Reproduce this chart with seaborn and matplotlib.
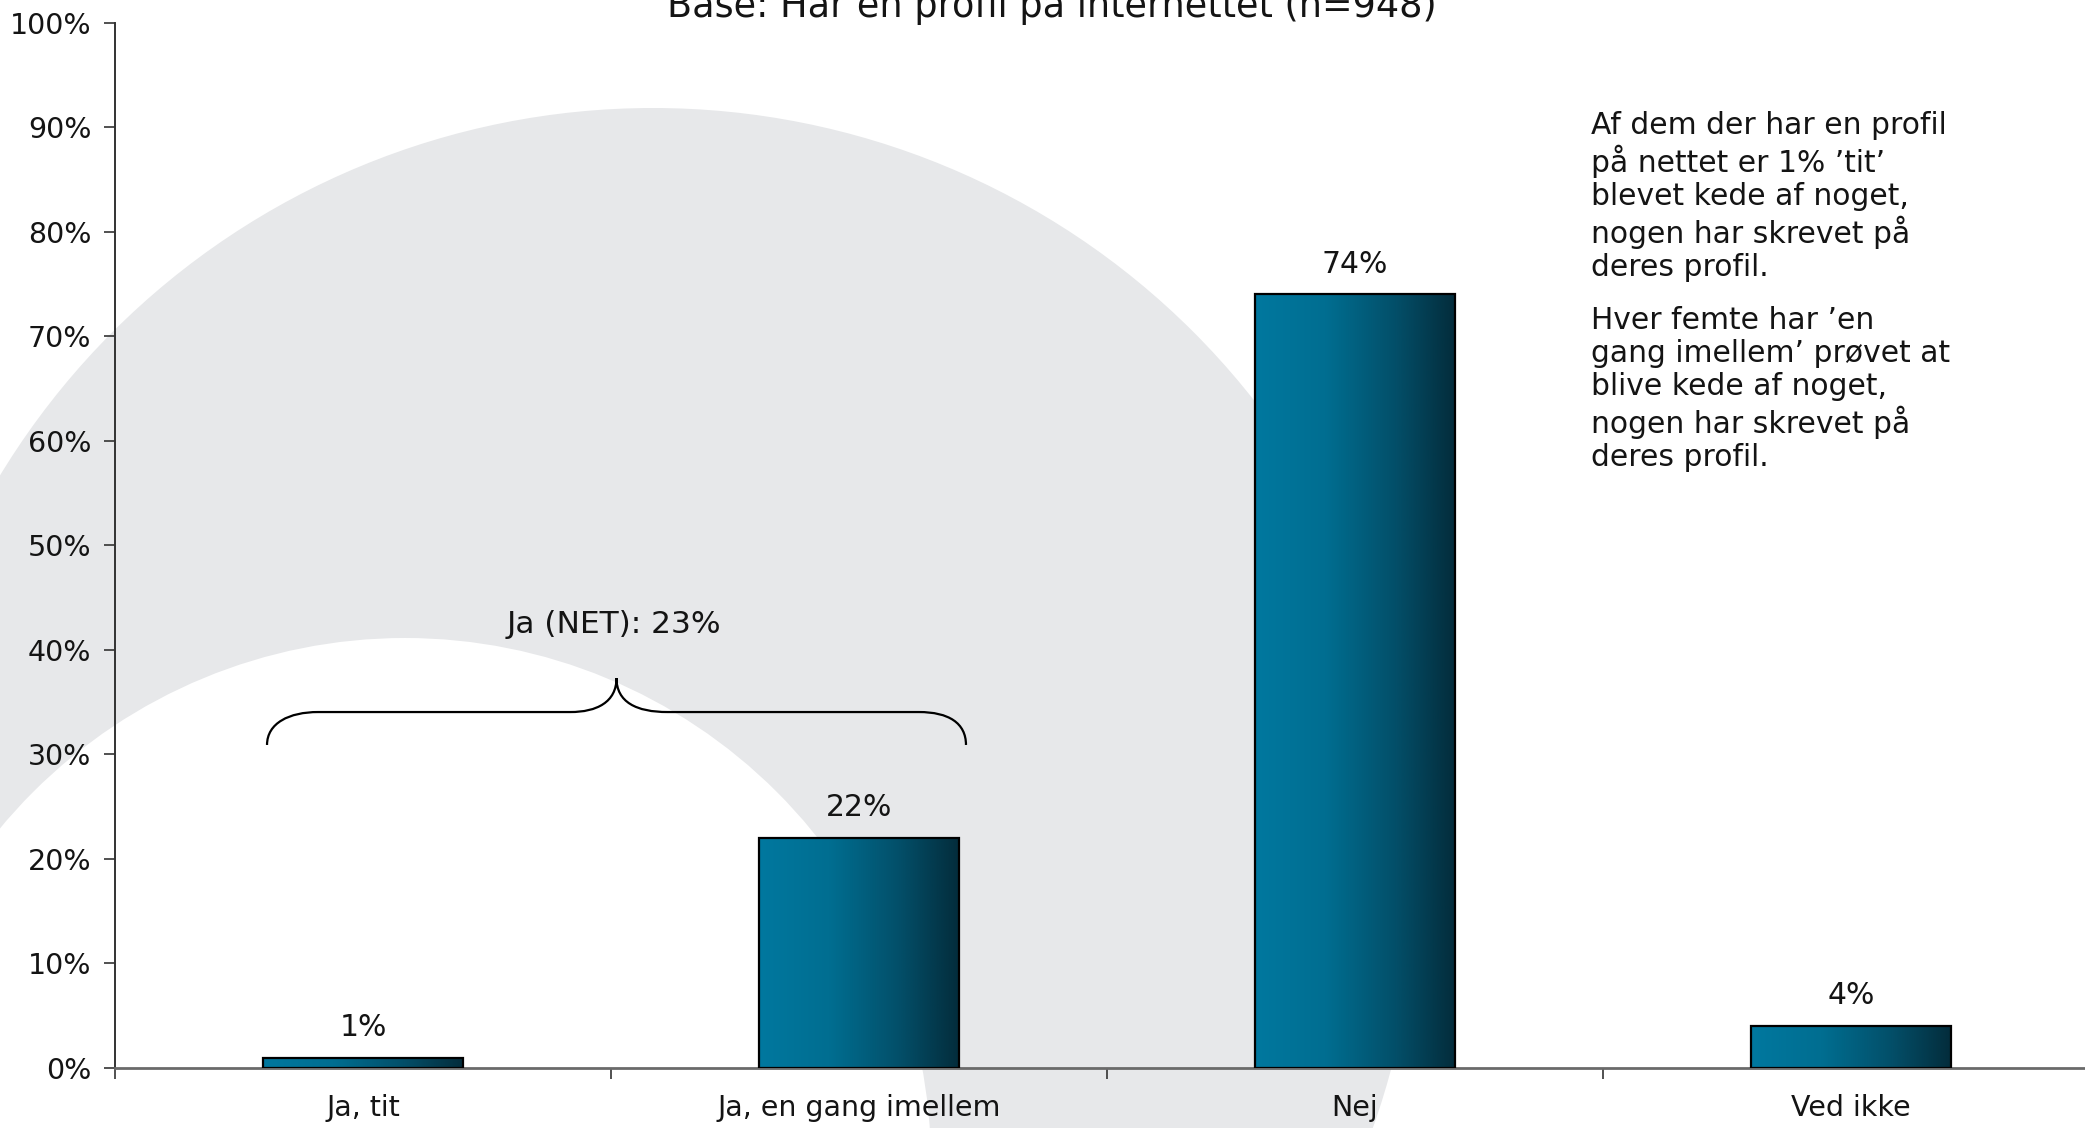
import numpy as np
import pandas as pd
import matplotlib
matplotlib.use("Agg")
import matplotlib.pyplot as plt
import seaborn as sns
from matplotlib.patches import Circle, PathPatch
from matplotlib.path import Path
from matplotlib.colors import LinearSegmentedColormap
from matplotlib.ticker import FixedLocator

# ---------------- data ----------------
categories = ["Ja, tit", "Ja, en gang imellem", "Nej", "Ved ikke"]
values = [1, 22, 74, 4]
net_label = "Ja (NET): 23%"
y_ticks = [0, 10, 20, 30, 40, 50, 60, 70, 80, 90, 100]
y_tick_labels = [f"{t}%" for t in y_ticks]
title = "Base: Har en profil på internettet (n=948)"
note_1 = "Af dem der har en profil\npå nettet er 1% ’tit’\nblevet kede af noget,\nnogen har skrevet på\nderes profil."
note_2 = "Hver femte har ’en\ngang imellem’ prøvet at\nblive kede af noget,\nnogen har skrevet på\nderes profil."

sns.set_theme(style="white")
plt.rcParams['font.family'] = ['DejaVu Sans']
TXT = "#141414"

W, H = 2085, 1128
fig = plt.figure(figsize=(W / 100, H / 100), dpi=100)
fig.patch.set_facecolor("white")

# ---------------- decorative background ring ----------------
bg = fig.add_axes([0, 0, 1, 1], zorder=-5)
bg.set_xlim(0, W)
bg.set_ylim(H, 0)
bg.axis("off")
bg.add_patch(Circle((653, 872), 764, facecolor="#e7e8ea", edgecolor="none"))
bg.add_patch(Circle((405, 1164), 526, facecolor="white", edgecolor="none"))

# ---------------- main axes ----------------
left_px, zero_px, top_px = 115, 1068, 22.6
cat_px = 496
ax = fig.add_axes([left_px / W, (H - zero_px) / H, (W - left_px) / W, (zero_px - top_px) / H])
ax.patch.set_alpha(0)

df = pd.DataFrame({"cat": categories, "val": values})
sns.barplot(data=df, x="cat", y="val", ax=ax, width=0.405, color="#00739a",
            edgecolor="black", linewidth=1.6, saturation=1, zorder=3)

xmax = -0.5 + (W - left_px) / cat_px

# gradient fill of bars
cmap = LinearSegmentedColormap.from_list("g", [(0, "#00789f"), (0.35, "#006e91"), (0.7, "#034f69"), (1, "#032c3b")])
grad = np.linspace(0, 1, 256).reshape(1, -1)
for p in list(ax.patches):
    x0, y0 = p.get_x(), p.get_y()
    w, h = p.get_width(), p.get_height()
    im = ax.imshow(grad, extent=[x0, x0 + w, y0, y0 + h], aspect="auto", cmap=cmap,
                   zorder=2.5, interpolation="bilinear")
    im.set_clip_path(p)
    p.set_facecolor("none")
ax.set_xlim(-0.5, xmax)
ax.set_ylim(0, 100)

# value labels
for i, v in enumerate(values):
    ax.text(i, v + 2.9, f"{v}%", ha="center", va="center", fontsize=21.5, color=TXT, zorder=5)

# axes styling
for s in ["top", "right"]:
    ax.spines[s].set_visible(False)
ax.spines["left"].set_color("#333333")
ax.spines["left"].set_linewidth(1.4)
ax.spines["bottom"].set_color("#6a6a6a")
ax.spines["bottom"].set_linewidth(2)
ax.set_xlabel("")
ax.set_ylabel("")
ax.yaxis.set_major_locator(FixedLocator(y_ticks))
ax.set_yticklabels(y_tick_labels)
ax.tick_params(axis="y", which="major", direction="out", length=8, width=1.2, color="#333333",
               pad=9, labelsize=20.5, labelcolor=TXT, left=True)
ax.set_xticks(range(len(categories)))
ax.set_xticklabels(categories)
ax.tick_params(axis="x", which="major", length=0, pad=19, labelsize=20.5, labelcolor=TXT)
ax.xaxis.set_minor_locator(FixedLocator([i - 0.5 for i in range(len(categories) + 1)]))
ax.tick_params(axis="x", which="minor", direction="out", length=8, width=1.2, color="#333333", bottom=True)
ax.grid(False)

# ---------------- brace for NET ----------------
bl, br = -0.1935, 1.2157
bmid = (bl + br) / 2
yb, yh, yt = 30.9, 34.05, 37.3
verts = [(bl, yb), (bl, 33.0), (bl + 0.045, yh), (bl + 0.103, yh),
         (bmid - 0.093, yh),
         (bmid - 0.04, yh), (bmid, 35.0), (bmid, yt),
         (bmid, 35.0), (bmid + 0.04, yh), (bmid + 0.103, yh),
         (br - 0.095, yh),
         (br - 0.035, yh), (br, 33.0), (br, yb)]
codes = [Path.MOVETO, Path.CURVE4, Path.CURVE4, Path.CURVE4,
         Path.LINETO,
         Path.CURVE4, Path.CURVE4, Path.CURVE4,
         Path.CURVE4, Path.CURVE4, Path.CURVE4,
         Path.LINETO,
         Path.CURVE4, Path.CURVE4, Path.CURVE4]
ax.add_patch(PathPatch(Path(verts, codes), facecolor="none", edgecolor="black", linewidth=1.6, zorder=4))
ax.text(bmid - 0.005, 42.4, net_label, ha="center", va="center", fontsize=22.5, color=TXT, zorder=5)

# ---------------- title and notes ----------------
fig.text(1052 / W, 1 - 17 / H, title, ha="center", va="baseline", fontsize=26.4, color=TXT)
fig.text(1591 / W, 1 - 111 / H, note_1, ha="left", va="top", fontsize=21.4, color=TXT, linespacing=1.17)
fig.text(1591 / W, 1 - 306 / H, note_2, ha="left", va="top", fontsize=21.4, color=TXT, linespacing=1.17)

fig.savefig("out.png", dpi=100, facecolor="white")
